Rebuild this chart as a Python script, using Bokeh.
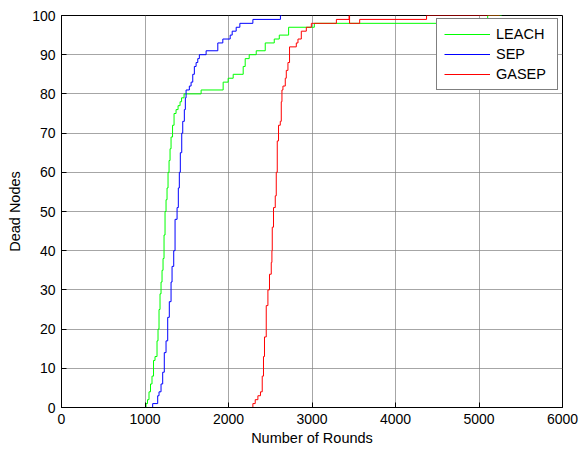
from bokeh.plotting import figure
from bokeh.models import Range1d, Legend, LegendItem, FixedTicker
from bokeh.embed import file_html
from bokeh.resources import INLINE

# LEACH (rounds, dead nodes) change points
leach_rounds = [0, 1012, 1030, 1048, 1066, 1084, 1102, 1120, 1144, 1156, 1168, 1180, 1192, 1204, 1216,
                1228, 1240, 1252, 1264, 1276, 1288, 1300, 1312, 1330, 1348, 1372, 1396, 1420, 1438, 1468,
                1672, 1936, 1996, 2056, 2176, 2200, 2248, 2332, 2440, 2548, 2608, 2720, 3028, 4816, 5104, 5272]
leach_dead = [0, 1, 2, 4, 6, 8, 12, 13, 17, 20, 25, 29, 32, 35, 38,
              44, 50, 53, 56, 60, 63, 66, 69, 72, 75, 76, 77, 78, 79, 80,
              81, 83, 84, 85, 87, 89, 90, 91, 93, 94, 95, 97, 98, 99, 100, 100]

# SEP
sep_rounds = [0, 1092, 1152, 1168, 1192, 1212, 1231, 1252, 1272, 1291, 1312, 1324, 1344, 1360, 1384,
              1399, 1411, 1423, 1440, 1452, 1471, 1483, 1492, 1531, 1552, 1572, 1591, 1612, 1632, 1651,
              1732, 1872, 1932, 2020, 2044, 2092, 2136, 2292, 2622, 2640]
sep_dead = [0, 1, 3, 4, 6, 9, 14, 17, 23, 27, 32, 36, 40, 48, 51,
            56, 60, 65, 70, 73, 76, 79, 81, 82, 83, 85, 87, 88, 89, 90,
            91, 93, 94, 95, 96, 97, 98, 99, 100, 100]

# GASEP
gasep_rounds = [0, 2292, 2320, 2352, 2383, 2404, 2419, 2431, 2452, 2472, 2491, 2512, 2520, 2524, 2539,
                2560, 2572, 2584, 2599, 2620, 2632, 2640, 2652, 2680, 2692, 2712, 2731, 2812, 2832, 2872,
                2932, 2992, 3292, 3444, 3450, 3571, 4372, 5248]
gasep_dead = [0, 1, 2, 3, 4, 8, 13, 18, 26, 30, 34, 37, 40, 46, 51,
              54, 60, 68, 72, 73, 78, 81, 82, 84, 86, 88, 92, 93, 94, 96,
              97, 98, 99, 100, 98, 99, 100, 100]

x_ticks = [0, 1000, 2000, 3000, 4000, 5000, 6000]
y_ticks = [0, 10, 20, 30, 40, 50, 60, 70, 80, 90, 100]

FONT = "Liberation Sans"


def stairs(xs, ys):
    sx, sy = [xs[0]], [ys[0]]
    for i in range(1, len(xs)):
        sx += [xs[i], xs[i]]
        sy += [ys[i - 1], ys[i]]
    return sx, sy


p = figure(width=580, height=448, output_backend="svg", toolbar_location=None,
           x_range=Range1d(0, 6000), y_range=Range1d(0, 100),
           min_border_left=61, min_border_right=18, min_border_top=15, min_border_bottom=39)
p.outline_line_color = "black"
p.outline_line_width = 1
p.background_fill_color = "white"
p.border_fill_color = "white"

for ax in (p.xaxis[0], p.yaxis[0]):
    ax.major_tick_in = 5
    ax.major_tick_out = 0
    ax.minor_tick_line_color = None
    ax.axis_line_color = "black"
    ax.major_tick_line_color = "black"
    ax.major_label_text_font = FONT
    ax.major_label_text_font_size = "14px"
    ax.major_label_text_color = "black"
    ax.axis_label_text_font = FONT
    ax.axis_label_text_font_size = "14.5px"
    ax.axis_label_text_font_style = "normal"
    ax.axis_label_text_color = "black"
    ax.major_label_standoff = 6

p.xaxis.ticker = FixedTicker(ticks=x_ticks)
p.yaxis.ticker = FixedTicker(ticks=y_ticks)
p.xaxis.axis_label = "Number of Rounds"
p.yaxis.axis_label = "Dead Nodes"
p.xaxis.axis_label_standoff = 3
p.yaxis.axis_label_standoff = 6

p.grid.grid_line_color = "#808080"
p.grid.grid_line_alpha = 0.7
p.grid.grid_line_width = 1

lx, ly = stairs(leach_rounds, leach_dead)
sx, sy = stairs(sep_rounds, sep_dead)
gx, gy = stairs(gasep_rounds, gasep_dead)
r1 = p.line(lx, ly, line_color="#00ff00", line_width=1)
r2 = p.line(sx, sy, line_color="#0000ff", line_width=1)
r3 = p.line(gx, gy, line_color="#ff0000", line_width=1)

legend = Legend(items=[LegendItem(label="LEACH", renderers=[r1]),
                       LegendItem(label="SEP", renderers=[r2]),
                       LegendItem(label="GASEP", renderers=[r3])],
                location=(375, 317))
legend.border_line_color = "black"
legend.border_line_width = 1
legend.background_fill_color = "white"
legend.background_fill_alpha = 1
legend.label_text_font = FONT
legend.label_text_font_size = "14.5px"
legend.label_text_color = "black"
legend.glyph_width = 46
legend.glyph_height = 14
legend.label_height = 14
legend.label_width = 54
legend.label_standoff = 6
legend.padding = 7
legend.spacing = 4
legend.margin = 0
p.add_layout(legend, "center")

open("out.html", "w").write(file_html(p, INLINE))
